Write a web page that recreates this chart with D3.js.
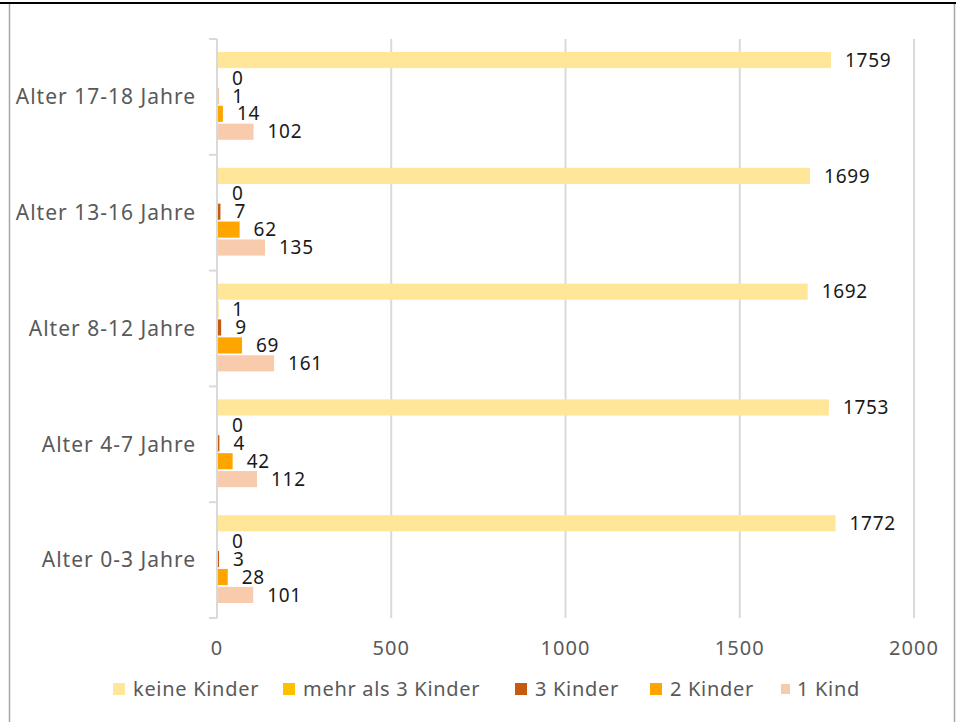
<!DOCTYPE html>
<html><head><meta charset="utf-8">
<script src="https://cdn.jsdelivr.net/npm/d3@7"></script>
<style>
html,body{margin:0;padding:0;background:#fff;}
svg{display:block;}
text{font-family:"Noto Sans",sans-serif;}
</style></head>
<body>
<svg id="chart" width="956" height="722"></svg>
<script>
const categories = ["Alter 17-18 Jahre","Alter 13-16 Jahre","Alter 8-12 Jahre","Alter 4-7 Jahre","Alter 0-3 Jahre"];
const seriesNames = ["keine Kinder","mehr als 3 Kinder","3 Kinder","2 Kinder","1 Kind"];
const seriesColors = ["#FFE699","#FFC000","#C55A11","#FFA500","#F8CBAD"];
const keineKinder   = [1759,1699,1692,1753,1772];
const mehrAls3      = [0,0,1,0,0];
const dreiKinder    = [1,7,9,4,3];
const zweiKinder    = [14,62,69,42,28];
const einKind       = [102,135,161,112,101];
const xTicks = [0,500,1000,1500,2000];

const seriesValues = [keineKinder, mehrAls3, dreiKinder, zweiKinder, einKind];

const svg = d3.select("#chart");
// frame
svg.append("line").attr("x1",0).attr("x2",956).attr("y1",3).attr("y2",3).attr("stroke","#000").attr("stroke-width",2);
svg.append("line").attr("x1",9.5).attr("x2",9.5).attr("y1",4).attr("y2",722).attr("stroke","#a6a6a6").attr("stroke-width",1.5);
svg.append("line").attr("x1",954.5).attr("x2",954.5).attr("y1",4).attr("y2",722).attr("stroke","#a6a6a6").attr("stroke-width",1.5);

const x = d3.scaleLinear().domain([0,2000]).range([217,914]);
const y = d3.scaleBand().domain(categories).range([39,618]).paddingInner(0).paddingOuter(0);
const inner = d3.scaleBand().domain(seriesNames).range([13, y.bandwidth()-15]).paddingInner(0.1);

// gridlines
svg.append("g").selectAll("line").data(xTicks.filter(d=>d>0)).join("line")
  .attr("x1",d=>x(d)).attr("x2",d=>x(d)).attr("y1",39).attr("y2",618)
  .attr("stroke","#d9d9d9").attr("stroke-width",2);

// y axis line + ticks
const yAxis = svg.append("g");
yAxis.append("line").attr("x1",x(0)).attr("x2",x(0)).attr("y1",39).attr("y2",618).attr("stroke","#d9d9d9").attr("stroke-width",2);
const bounds = categories.map(c=>y(c)).concat([y(categories[categories.length-1])+y.bandwidth()]);
yAxis.selectAll("line.tick").data(bounds).join("line").attr("class","tick")
  .attr("x1",x(0)-8).attr("x2",x(0)).attr("y1",d=>d).attr("y2",d=>d)
  .attr("stroke","#d9d9d9").attr("stroke-width",2);
yAxis.selectAll("text").data(categories).join("text")
  .attr("x",196).attr("y",d=>y(d)+y.bandwidth()/2).attr("dy","0.35em")
  .attr("text-anchor","end").attr("fill","#595959").attr("font-size",21)
  .attr("letter-spacing",1).text(d=>d);

// x tick labels
svg.append("g").selectAll("text").data(xTicks).join("text")
  .attr("x",d=>x(d)).attr("y",648).attr("dy","0.35em").attr("text-anchor","middle")
  .attr("fill","#595959").attr("font-size",20).attr("letter-spacing",1).text(d=>d);

// bars
const rows = [];
categories.forEach((c,i)=>{
  seriesNames.forEach((s,j)=>{
    rows.push({cat:c, series:s, value:seriesValues[j][i], color:seriesColors[j]});
  });
});
const g = svg.append("g");
g.selectAll("rect").data(rows).join("rect")
  .attr("x",x(0)+1).attr("y",d=>y(d.cat)+inner(d.series))
  .attr("width",d=>Math.max(0,x(d.value)-x(0)))
  .attr("height",inner.bandwidth())
  .attr("fill",d=>d.color);
g.selectAll("text").data(rows).join("text")
  .attr("x",d=>x(d.value)+15).attr("y",d=>y(d.cat)+inner(d.series)+inner.bandwidth()/2)
  .attr("dy","0.35em").attr("fill","#1a1a1a").attr("font-size",19)
  .attr("letter-spacing",0.7).text(d=>d.value);

// legend
const legendX = [113,283,515,650,780];
const leg = svg.append("g").selectAll("g").data(seriesNames).join("g")
  .attr("transform",(d,i)=>`translate(${legendX[i]},689)`);
leg.append("rect").attr("x",(d,i)=>i===4?1:0).attr("y",(d,i)=>i===4?-5:-6)
  .attr("width",(d,i)=>i===4?9:12).attr("height",(d,i)=>i===4?10:12)
  .attr("fill",(d,i)=>seriesColors[i]);
leg.append("text").attr("x",(d,i)=>i===4?17:20).attr("y",0).attr("dy","0.35em")
  .attr("fill","#595959").attr("font-size",20).attr("letter-spacing",0.7).text(d=>d);
</script>
</body></html>
